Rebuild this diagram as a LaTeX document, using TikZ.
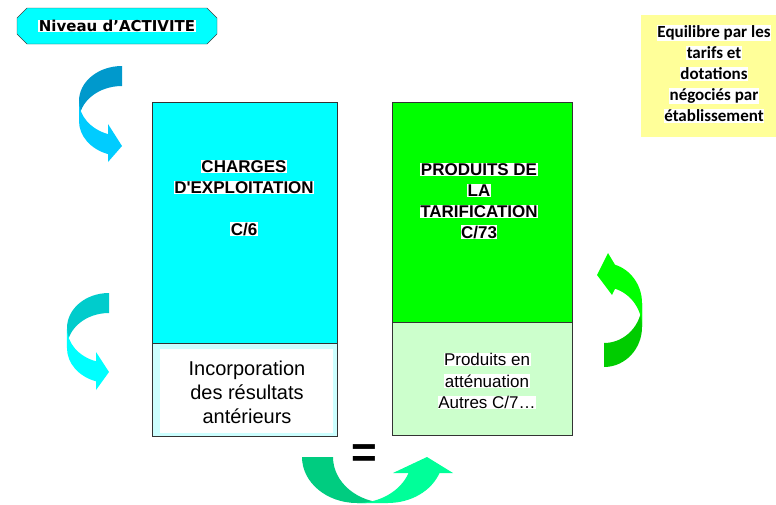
\documentclass[tikz,border=0pt]{standalone}
\usepackage{fontspec}
\setmainfont{Liberation Sans}
\newfontfamily\calibri{Carlito}
\newfontfamily\verdana{DejaVu Sans}
\definecolor{purecyan}{HTML}{00FFFF}
\definecolor{puregreen}{HTML}{00FF00}
\definecolor{bluedark}{HTML}{0099CC}
\definecolor{bluelight}{HTML}{00CCFF}
\definecolor{tealdark}{HTML}{00CCCC}
\definecolor{teallight}{HTML}{00FFFF}
\definecolor{greendark}{HTML}{00CC00}
\definecolor{greenlight}{HTML}{00FF00}
\definecolor{mintdark}{HTML}{00CC80}
\definecolor{mintlight}{HTML}{00FF99}
\definecolor{paleyellow}{HTML}{FFFF99}
\definecolor{palecyan}{HTML}{CCFFFF}
\definecolor{palegreen}{HTML}{CCFFCC}
\newcommand{\wbox}[1]{{\setlength{\fboxsep}{0.5pt}\colorbox{white}{#1}}}

\begin{document}
\begin{tikzpicture}[x=1pt,y=1pt,yscale=-1,
    box/.style={draw=black!80, line width=1pt, inner sep=0pt, minimum width=#1},
    big/.style={font=\bfseries\fontsize{17}{21}\selectfont, align=center},
    small/.style={font=\fontsize{17}{21.5}\selectfont, align=center}]
    \useasboundingbox (0,0) rectangle (776,504);

    % label and note
    \draw[black!75, fill=purecyan] (27,8) -- (207,8) -- (217,18) -- (217,34) -- (207,44) -- (27,44) -- (17,34) -- (17,18) -- cycle;
    \node[font=\verdana\bfseries\fontsize{15}{18}\selectfont] (niveau) at (117,26) {\wbox{Niveau d’ACTIVITE}};
    \node[fill=paleyellow, minimum width=135pt, minimum height=122pt, inner sep=0pt] (note) at (708.5,76) {};
    \node[font=\calibri\bfseries\fontsize{17}{21}\selectfont, align=center] (equil) at (714,74)
        {\wbox{Equilibre par les}\\\wbox{tarifs et}\\\wbox{dotations}\\\wbox{négociés par}\\\wbox{établissement}};

    % boxes
    \node[box=185pt, fill=purecyan, minimum height=241pt] (charges) at (244.5,222.5) {};
    \node[box=185pt, fill=palecyan, minimum height=93pt] (incorp) at (244.5,389.5) {};
    \node[fill=white, minimum width=173pt, minimum height=84pt, inner sep=0pt] (incorpw) at (246.5,391) {};
    \node[box=180pt, fill=puregreen, minimum height=220pt] (produits) at (482,212) {};
    \node[box=180pt, fill=palegreen, minimum height=113pt] (attenu) at (482,378.5) {};

    \node[big] (chargestxt) at (244,198) {\wbox{CHARGES}\\\wbox{D\textquotesingle EXPLOITATION}\\[21pt]\wbox{C/6}};
    \node[big] (produitstxt) at (479,201) {\wbox{PRODUITS DE}\\\wbox{LA}\\\wbox{TARIFICATION}\\\wbox{C/73}};
    \node[font=\fontsize{20}{24}\selectfont, align=center] (incorptxt) at (247,392) {Incorporation\\des résultats\\antérieurs};
    \node[small] (attenutxt) at (487,381) {\wbox{Produits en}\\\wbox{atténuation}\\\wbox{Autres C/7…}};
    \node[font=\bfseries\fontsize{44}{44}\selectfont] (egal) at (364,456) {=};

    % curved arrows
    \fill[bluedark] (122,66) arc[start angle=-90,end angle=-180,x radius=43,y radius=35] -- (79,121)
        arc[start angle=180,end angle=270,x radius=43,y radius=35] -- cycle;
    \fill[bluelight] (79,101) arc[start angle=180,end angle=109,x radius=43,y radius=35] -- (108,124) -- (122,146)
        -- (108,162) -- (108,154.1) arc[start angle=109,end angle=180,x radius=43,y radius=35] -- cycle;

    \fill[tealdark] (109,293) arc[start angle=-90,end angle=-180,x radius=42,y radius=35] -- (67,348)
        arc[start angle=180,end angle=270,x radius=42,y radius=35] -- cycle;
    \fill[teallight] (67,328) arc[start angle=180,end angle=108,x radius=42,y radius=35] -- (96,352) -- (109,372)
        -- (96,390) -- (96,381.3) arc[start angle=108,end angle=180,x radius=42,y radius=35] -- cycle;

    \fill[greendark] (604,343) arc[start angle=90,end angle=0,x radius=38,y radius=40] -- (642,327)
        arc[start angle=0,end angle=90,x radius=38,y radius=40] -- cycle;
    \fill[greenlight] (642,303) arc[start angle=0,end angle=-73.2,x radius=38,y radius=40] -- (608,253) -- (597,275)
        -- (612,295) -- (615,288.7) arc[start angle=-73.2,end angle=0,x radius=38,y radius=40] -- cycle;

    \fill[mintdark] (302,457) arc[start angle=180,end angle=90,x radius=55,y radius=46] -- (388,503)
        arc[start angle=90,end angle=180,x radius=55,y radius=46] -- cycle;
    \fill[mintlight] (357,503) arc[start angle=90,end angle=20.4,x radius=55,y radius=46] -- (393,473) -- (427,457)
        -- (453,473) -- (439.5,473) arc[start angle=20.4,end angle=90,x radius=55,y radius=46] -- cycle;
\end{tikzpicture}
\end{document}
